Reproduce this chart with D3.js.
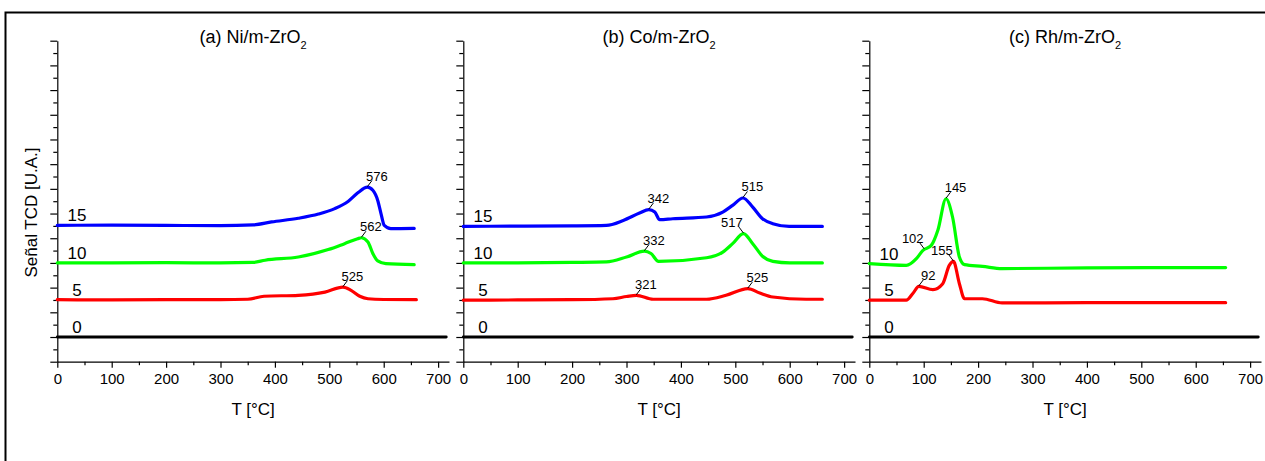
<!DOCTYPE html>
<html>
<head>
<meta charset="utf-8">
<script src="https://cdn.jsdelivr.net/npm/d3@7"></script>
<style>
  body { margin: 0; background: #fff; }
  svg { font-family: "Liberation Sans", Arial, sans-serif; }
</style>
</head>
<body>
<svg id="chart" width="1265" height="461"></svg>
<script>
// Panel titles and tick values
const panelTitles = ["(a) Ni/m-ZrO", "(b) Co/m-ZrO", "(c) Rh/m-ZrO"];
const xTicks = [0, 100, 200, 300, 400, 500, 600, 700];
const xMinorTicks = [50, 150, 250, 350, 450, 550, 650];
const yTicks = [-1, 0, 1, 2, 3, 4, 5, 6, 7, 8, 9, 10, 11, 12];

// [T °C, signal]
const zeroLine = [[0, 0], [715, 0]];

const ni5 = [[0, 1.51], [100, 1.5], [200, 1.51], [300, 1.51], [350, 1.53], [380, 1.65], [443, 1.69],
  [492, 1.82], [525, 2.02], [540, 1.89], [556, 1.65], [571, 1.55], [600, 1.52], [660, 1.51]];
const ni10 = [[0, 3.0], [100, 3.0], [200, 3.01], [300, 3.0], [360, 3.02], [382, 3.11], [443, 3.24],
  [498, 3.54], [528, 3.78], [552, 3.98], [559, 4.02], [571, 3.85], [580, 3.38], [589, 3.08],
  [604, 2.97], [656, 2.93]];
const ni15 = [[0, 4.52], [100, 4.53], [200, 4.52], [300, 4.51], [360, 4.54], [394, 4.66], [443, 4.81],
  [480, 4.98], [510, 5.2], [535, 5.5], [553, 5.85], [570, 6.07], [580, 5.94], [589, 5.53],
  [595, 5.0], [601, 4.52], [613, 4.39], [656, 4.4]];

const co5 = [[0, 1.49], [100, 1.5], [200, 1.51], [275, 1.55], [300, 1.64], [318, 1.69], [349, 1.53],
  [447, 1.53], [483, 1.69], [523, 1.96], [545, 1.78], [569, 1.62], [630, 1.53], [660, 1.53]];
const co10 = [[0, 3.0], [100, 3.0], [200, 3.02], [263, 3.04], [300, 3.24], [333, 3.48], [345, 3.38],
  [359, 3.06], [447, 3.21], [477, 3.44], [495, 3.78], [515, 4.19], [532, 3.78], [550, 3.27],
  [569, 3.06], [600, 3.0], [660, 3.0]];
const co15 = [[0, 4.48], [100, 4.49], [200, 4.5], [263, 4.52], [294, 4.72], [324, 5.02], [341, 5.16],
  [352, 5.06], [361, 4.75], [385, 4.79], [447, 4.86], [477, 5.06], [495, 5.33], [514, 5.63],
  [532, 5.26], [550, 4.79], [569, 4.59], [599, 4.48], [660, 4.48]];

const rh5 = [[0, 1.49], [68, 1.49], [80, 1.76], [91, 2.05], [117, 1.92], [135, 2.16], [147, 2.9],
  [154.6, 3.06], [165.6, 2.16], [175, 1.55], [208, 1.55], [244, 1.38], [400, 1.39], [655, 1.39]];
const rh10 = [[0, 2.97], [68, 2.9], [86.5, 3.17], [98.6, 3.51], [114, 3.71], [126, 4.32], [141, 5.6],
  [153, 4.86], [165.6, 3.24], [175, 2.93], [208, 2.86], [244, 2.77], [400, 2.8], [655, 2.81]];

// peak labels: [T, signal, text, side]
const niPeaks = [[570, 6.07, "576", "r"], [559, 4.02, "562", "r"], [525, 2.02, "525", "r"]];
const coPeaks = [[341, 5.16, "342", "r"], [514, 5.63, "515", "r"], [333, 3.48, "332", "r"],
  [515, 4.19, "517", "l"], [318, 1.69, "321", "r"], [523, 1.96, "525", "r"]];
const rhPeaks = [[141, 5.6, "145", "r"], [101, 3.55, "102", "l"], [154.6, 3.06, "155", "l"],
  [91, 2.05, "92", "r"]];

const panels = [
  { title: panelTitles[0], series: [[zeroLine, "0"], [ni5, "5"], [ni10, "10"], [ni15, "15"]], peaks: niPeaks },
  { title: panelTitles[1], series: [[zeroLine, "0"], [co5, "5"], [co10, "10"], [co15, "15"]], peaks: coPeaks },
  { title: panelTitles[2], series: [[zeroLine, "0"], [rh5, "5"], [rh10, "10"]], peaks: rhPeaks }
];
const colors = { "0": "#000000", "5": "#ff0000", "10": "#00ff00", "15": "#0000ff" };

const svg = d3.select("#chart");

// outer frame
svg.append("rect")
  .attr("x", 5.5).attr("y", 12.5)
  .attr("width", 1300).attr("height", 500)
  .attr("fill", "none").attr("stroke", "#000").attr("stroke-width", 2);

const panelLeft = [57.3, 463.3, 869.3];
const panelWidth = 391.7;
const yScale = d3.scaleLinear().domain([-1, 12]).range([361.7, 40.7]);

// y axis title
svg.append("text")
  .attr("transform", "translate(36.5,212.5) rotate(-90)")
  .attr("text-anchor", "middle")
  .style("font-size", "17px")
  .text("Señal TCD [U.A.]");

panels.forEach(function (p, i) {
  const x0 = panelLeft[i];
  const xScale = d3.scaleLinear().domain([0, 720]).range([x0, x0 + panelWidth]);
  const g = svg.append("g");

  // x axis
  const xAxis = g.append("g")
    .attr("transform", "translate(0," + yScale(-1) + ")")
    .call(d3.axisBottom(xScale).tickValues(xTicks).tickSize(6).tickSizeOuter(0).tickPadding(6));
  xAxis.selectAll("text").style("font-size", "15px").attr("fill", "#000");
  g.append("g")
    .attr("transform", "translate(0," + yScale(-1) + ")")
    .call(d3.axisBottom(xScale).tickValues(xMinorTicks).tickSize(3.5).tickFormat(""))
    .select(".domain").remove();

  // y axis (no labels)
  g.append("g")
    .attr("transform", "translate(" + x0 + ",0)")
    .call(d3.axisLeft(yScale).tickValues(yTicks).tickSize(7).tickSizeOuter(0).tickFormat(""));
  g.append("g")
    .attr("transform", "translate(" + x0 + ",0)")
    .call(d3.axisLeft(yScale).tickValues(yTicks.slice(0, -1).map(function (d) { return d + 0.5; }))
      .tickSize(4).tickFormat(""))
    .select(".domain").remove();
  g.selectAll(".domain, .tick line").attr("stroke", "#000").attr("stroke-width", 1.2);

  // curves
  const line = d3.line()
    .x(function (d) { return xScale(d[0]); })
    .y(function (d) { return yScale(d[1]); })
    .curve(d3.curveMonotoneX);

  p.series.forEach(function (s) {
    g.append("path")
      .datum(s[0])
      .attr("d", line)
      .attr("fill", "none")
      .attr("stroke", colors[s[1]])
      .attr("stroke-width", s[1] === "0" ? 2.8 : 3.2)
      .attr("stroke-linejoin", "round")
      .attr("stroke-linecap", "round");

    g.append("text")
      .attr("x", xScale(36))
      .attr("y", yScale(s[0][0][1]) - 4)
      .attr("text-anchor", "middle")
      .style("font-size", "17px")
      .text(s[1]);
  });

  // peak labels with leaders
  p.peaks.forEach(function (pk) {
    const px = xScale(pk[0]);
    const py = yScale(pk[1]);
    const dir = pk[3] === "r" ? 1 : -1;
    const ex = px + dir * 4.5;
    const ey = py - 6.5;
    g.append("line")
      .attr("x1", px).attr("y1", py - 0.5)
      .attr("x2", ex).attr("y2", ey)
      .attr("stroke", "#000").attr("stroke-width", 1);
    g.append("text")
      .attr("x", dir > 0 ? ex + 5 : ex - 7)
      .attr("y", ey)
      .attr("text-anchor", "middle")
      .style("font-size", "13px")
      .text(pk[2]);
  });

  // panel title with subscript
  const t = g.append("text")
    .attr("x", x0 + panelWidth / 2)
    .attr("y", 43.3)
    .attr("text-anchor", "middle")
    .style("font-size", "18px");
  t.append("tspan").text(p.title);
  t.append("tspan").attr("dy", 6).style("font-size", "11px").text("2");

  // x axis title
  g.append("text")
    .attr("x", x0 + panelWidth / 2)
    .attr("y", 415)
    .attr("text-anchor", "middle")
    .style("font-size", "17px")
    .text("T [°C]");
});
</script>
</body>
</html>
